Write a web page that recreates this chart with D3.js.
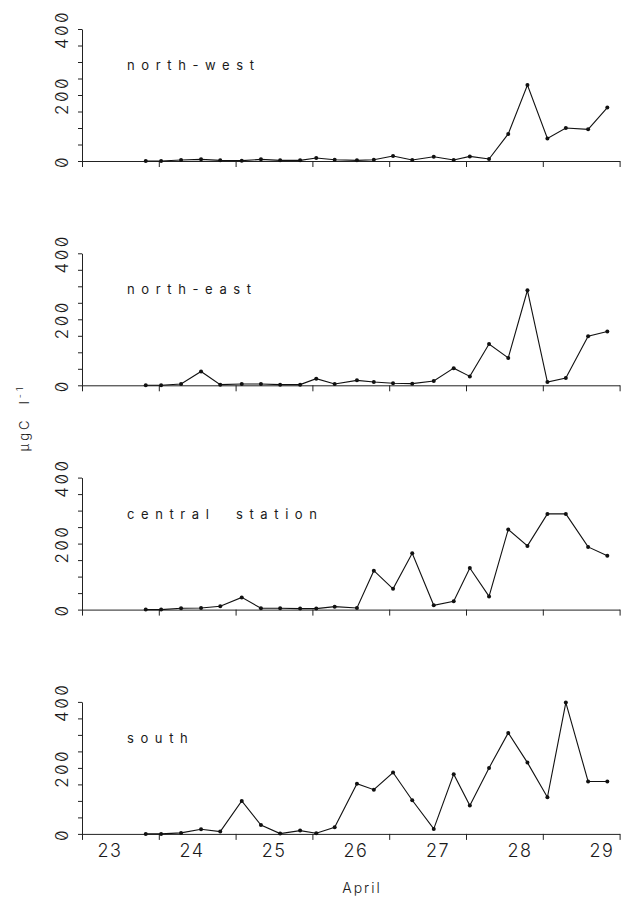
<!DOCTYPE html>
<html>
<head>
<meta charset="utf-8">
<script src="https://cdn.jsdelivr.net/npm/d3@7"></script>
<style>
  body { margin: 0; background: #fff; }
  svg text { font-family: Inter, 'DejaVu Sans', sans-serif; fill: #1a1a1a; }
  .ylab { font-variant-numeric: slashed-zero; font-feature-settings: "zero" 1; }
</style>
</head>
<body>
<div id="chart-area"></div>
<script>
// sampling times (day of April) and values per station, µgC l-1
const days = [23.83, 24.03, 24.29, 24.55, 24.8, 25.08, 25.33, 25.58, 25.84, 26.05, 26.29, 26.58, 26.8,
  27.05, 27.3, 27.58, 27.84, 28.05, 28.3, 28.55, 28.8, 29.06, 29.3, 29.59, 29.84];
const northWest = [0, 0, 3, 5, 2, 1, 5, 2, 2, 9, 4, 2, 4, 15, 3, 13, 3, 14, 6, 82, 230, 68, 100, 96, 162];
const northEast = [0, 0, 4, 42, 2, 4, 4, 2, 2, 20, 4, 15, 10, 6, 5, 13, 52, 27, 125, 83, 288, 10, 22, 149, 163];
const central = [0, 0, 4, 5, 10, 37, 4, 4, 3, 3, 9, 5, 118, 63, 171, 13, 25, 126, 40, 243, 193, 290, 290, 190, 163];
const south = [0, 0, 3, 14, 7, 100, 27, 1, 10, 2, 20, 152, 134, 186, 102, 15, 181, 86, 200, 306, 216, 111, 398, 159, 159];
const stationNames = ['north-west', 'north-east', 'central  station', 'south'];
const dayLabels = ['23', '24', '25', '26', '27', '28', '29'];
const yLabelValues = [0, 200, 400];

let width = 623;
let height = 899;
let left = 82;
let right = 619.6;
let firstZero = 161;
let panelStep = 224.3;
let panelHeight = 132;

let series = [northWest, northEast, central, south];

let x = d3.scaleLinear().domain([23, 30]).range([left, right]);
// day labels were set a little wider than the day ticks
let labelX = d3.scaleLinear().domain([23, 29]).range([110, 602]);

let svg = d3
  .select('#chart-area')
  .append('svg')
  .attr('width', width)
  .attr('height', height);

series.forEach((values, i) => {
  let zero = firstZero + i * panelStep;
  let y = d3.scaleLinear().domain([0, 400]).range([zero, zero - panelHeight]);
  let panel = svg.append('g').attr('class', 'panel');

  //x axis
  panel
    .append('g')
    .attr('transform', `translate(0, ${zero})`)
    .call(
      d3.axisBottom(x).tickValues(d3.range(23, 31)).tickSize(6).tickSizeOuter(0).tickFormat(''),
    );

  //y axis with rotated labels
  let yAxis = panel
    .append('g')
    .attr('transform', `translate(${left}, 0)`)
    .call(
      d3
        .axisLeft(y)
        .tickValues(d3.range(0, 401, 50))
        .tickSize(4)
        .tickSizeOuter(0)
        .tickFormat((d) => (yLabelValues.includes(d) ? d : '')),
    );
  yAxis
    .selectAll('text')
    .attr('class', 'ylab')
    .attr('transform', 'rotate(-90)')
    .attr('x', 0)
    .attr('y', -14)
    .attr('dy', null)
    .attr('text-anchor', 'middle')
    .attr('font-size', 17)
    .attr('font-weight', 300)
    .attr('letter-spacing', 2.5);

  panel.selectAll('.domain, .tick line').attr('stroke', '#222').attr('stroke-width', 1);

  //station name
  panel
    .append('text')
    .attr('x', 127)
    .attr('y', zero - 91)
    .attr('font-size', 13)
    .attr('letter-spacing', 6.6)
    .style('white-space', 'pre')
    .text(stationNames[i]);

  //data line and points
  let line = d3
    .line()
    .x((d, j) => x(days[j]))
    .y((d) => y(d));
  panel
    .append('path')
    .datum(values)
    .attr('d', line)
    .attr('fill', 'none')
    .attr('stroke', '#111')
    .attr('stroke-width', 1.1);
  panel
    .selectAll('circle')
    .data(values)
    .enter()
    .append('circle')
    .attr('cx', (d, j) => x(days[j]))
    .attr('cy', (d) => y(d))
    .attr('r', 2)
    .attr('fill', '#111');
});

//day labels under the last panel
let lastZero = firstZero + 3 * panelStep;
svg
  .append('g')
  .selectAll('text')
  .data(dayLabels)
  .enter()
  .append('text')
  .attr('x', (d) => labelX(+d))
  .attr('y', lastZero + 23)
  .attr('text-anchor', 'middle')
  .attr('font-size', 18)
  .attr('font-weight', 300)
  .attr('letter-spacing', 1.5)
  .text((d) => d);

svg
  .append('text')
  .attr('x', 362)
  .attr('y', 893)
  .attr('text-anchor', 'middle')
  .attr('font-size', 14)
  .attr('font-weight', 300)
  .attr('letter-spacing', 2)
  .text('April');

//y axis title
let yTitle = svg
  .append('text')
  .attr('transform', 'translate(29, 418) rotate(-90)')
  .attr('text-anchor', 'middle')
  .attr('font-size', 13)
  .attr('font-weight', 300)
  .attr('letter-spacing', 3)
  .style('white-space', 'pre');
yTitle.append('tspan').text('µgC  l');
yTitle.append('tspan').attr('dy', -6).attr('font-size', 9).text('-1');
</script>
</body>
</html>
